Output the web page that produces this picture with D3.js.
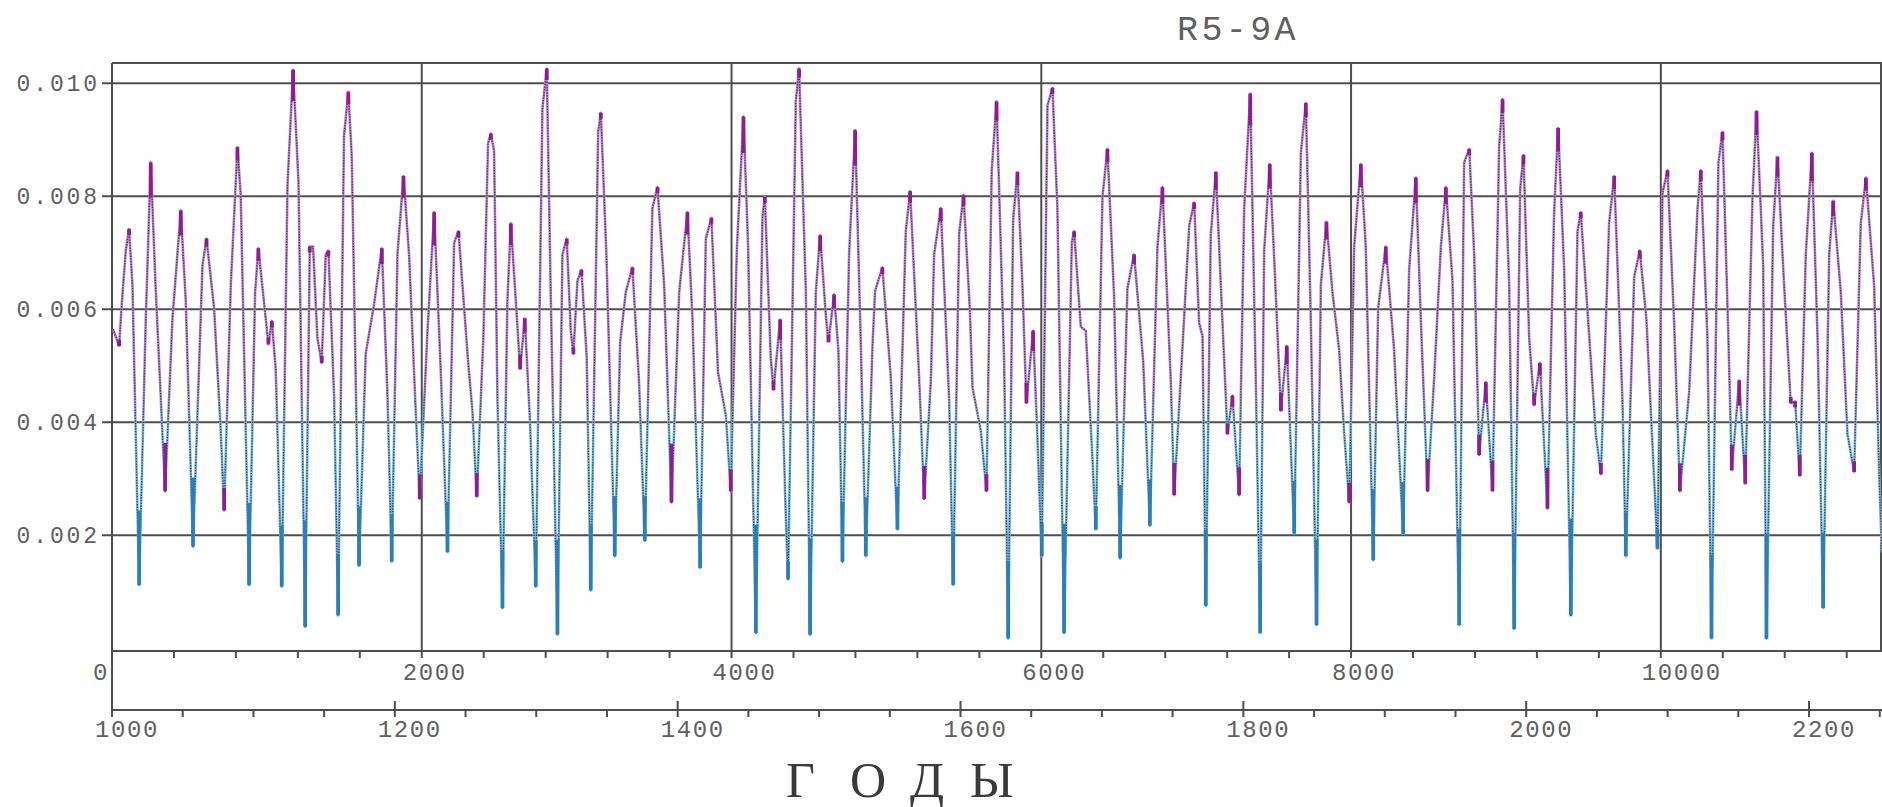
<!DOCTYPE html>
<html><head><meta charset="utf-8">
<script src="https://cdn.jsdelivr.net/npm/d3@7"></script>
<style>body{margin:0;background:#fff;} svg{display:block}</style>
</head><body>
<svg id="c" width="1882" height="807"></svg>
<script>
// ---------- data ----------
const chartTitle = "R5-9A";
const axisTitle = "Г О Д Ы";
const yTickValues = [0.002, 0.004, 0.006, 0.008, 0.010];
const xTickValues = [0, 2000, 4000, 6000, 8000, 10000];
const xMinorStep = 400;
const yearTickValues = [1000, 1200, 1400, 1600, 1800, 2000, 2200];
const yearMinorStep = 50;

const tValues = [
7,46,63,89,110,132,175,218,250,282,343,390,444,476,523,584,610,659,702,724,767,810,831,885,924,945,993,1010,1032,1057,1096,1133,1169,1204,1247,1277,1298,1326,1354,1380,1397,1434,1460,1498,1526,1548,1595,1638,1692,1742,1778,1806,1843,1882,1918,1961,1987,2037,2080,2123,2166,2209,2237,
2299,2327,2355,2398,2428,2446,2467,2489,2521,2553,2575,2607,2635,2665,2699,2736,2779,2807,2833,2876,2908,2936,2962,2979,3005,3031,3065,3091,3139,3156,3192,3246,3281,3317,3360,3403,3440,3489,3522,3565,3612,3662,3715,3748,3797,3834,3870,3913,3963,3995,4034,4077,4107,4157,4200,4215,4253,4271,4314,4350,4365,4415,4436,4480,4507,4544,4572,
4609,4626,4662,4690,4716,4759,4798,4835,4867,4910,4927,4974,5028,5071,5125,5153,5211,5244,5287,5308,5351,5405,5431,5470,5498,5538,5556,5609,5646,5680,5711,5760,5786,5818,5846,5878,5904,5947,5975,6003,6040,6072,6104,6147,6197,6212,6255,6287,6326,6352,6395,6427,6470,6509,6556,6599,6658,6701,6750,6782,6836,6858,
6912,6955,6987,7019,7041,7062,7094,7127,7159,7202,7234,7277,7310,7349,7385,7413,7439,7475,7508,7547,7585,7633,7676,7708,7740,7777,7805,7841,7880,7923,7955,7988,8020,8063,8095,8143,8175,8224,8278,8336,8375,8418,8455,8494,8537,8580,8612,8655,8698,8730,8763,8795,8827,8870,8913,8956,8978,9021,9053,9092,9113,
9150,9182,9219,9268,9311,9337,9376,9419,9462,9483,9537,9580,9613,9666,9699,9752,9774,9828,9864,9907,9957,9978,10011,10043,10086,10123,10183,10237,10258,10301,10327,10372,10398,10437,10458,10506,10545,10592,10618,10661,10682,10725,10753,10796,10839,10867,10897,10936,10975,11012,11048,11087,11113,11162,11205,11248,11291,11324,11377,11410,11427
];
const rValues = [
0.00565,0.00535,0.00609,0.00704,0.00742,0.00643,0.00112,0.00582,0.00860,0.00637,0.00278,0.00582,0.00775,0.00616,0.00180,0.00677,0.00725,0.00603,0.00386,0.00244,0.00643,0.00887,0.00802,0.00112,0.00630,0.00708,0.00582,0.00538,0.00579,0.00494,0.00109,0.00819,0.01024,0.00826,0.00038,0.00711,0.00711,0.00549,0.00505,0.00697,0.00704,0.00447,0.00058,0.00907,0.00985,0.00870,0.00146,0.00521,0.00609,0.00708,0.00454,0.00153,0.00697,0.00836,0.00697,0.00420,0.00264,0.00562,0.00772,0.00488,0.00170,0.00718,0.00738,
0.00508,0.00420,0.00268,0.00552,0.00894,0.00911,0.00880,0.00437,0.00071,0.00616,0.00752,0.00616,0.00494,0.00584,0.00400,0.00109,0.00955,0.01026,0.00623,0.00024,0.00697,0.00725,0.00562,0.00521,0.00650,0.00670,0.00515,0.00102,0.00914,0.00948,0.00697,0.00163,0.00542,0.00630,0.00674,0.00471,0.00190,0.00779,0.00816,0.00643,0.00258,0.00630,0.00772,0.00582,0.00142,0.00725,0.00762,0.00488,0.00413,0.00278,0.00704,0.00941,0.00711,0.00027,0.00765,0.00799,0.00515,0.00457,0.00582,0.00237,0.00122,0.00968,0.01026,0.00630,0.00024,0.00630,0.00731,
0.00589,0.00542,0.00626,0.00528,0.00153,0.00697,0.00917,0.00535,0.00163,0.00535,0.00633,0.00674,0.00481,0.00210,0.00738,0.00809,0.00481,0.00264,0.00474,0.00697,0.00779,0.00440,0.00112,0.00735,0.00802,0.00603,0.00461,0.00386,0.00278,0.00846,0.00968,0.00508,0.00017,0.00758,0.00843,0.00643,0.00434,0.00562,0.00373,0.00163,0.00961,0.00992,0.00779,0.00027,0.00718,0.00738,0.00569,0.00562,0.00359,0.00210,0.00799,0.00884,0.00623,0.00159,0.00637,0.00697,0.00508,0.00217,0.00711,0.00816,0.00474,0.00271,
0.00535,0.00748,0.00789,0.00576,0.00552,0.00075,0.00731,0.00843,0.00643,0.00379,0.00447,0.00271,0.00779,0.00982,0.00474,0.00027,0.00704,0.00857,0.00664,0.00420,0.00535,0.00203,0.00877,0.00965,0.00582,0.00041,0.00643,0.00755,0.00630,0.00528,0.00383,0.00258,0.00711,0.00857,0.00711,0.00156,0.00603,0.00711,0.00528,0.00203,0.00670,0.00833,0.00549,0.00278,0.00481,0.00711,0.00816,0.00650,0.00041,0.00860,0.00884,0.00697,0.00342,0.00471,0.00278,0.00887,0.00972,0.00643,0.00034,0.00813,0.00873,
0.00549,0.00430,0.00505,0.00247,0.00772,0.00921,0.00670,0.00058,0.00738,0.00772,0.00555,0.00379,0.00308,0.00752,0.00836,0.00440,0.00163,0.00657,0.00704,0.00582,0.00298,0.00176,0.00806,0.00846,0.00576,0.00278,0.00454,0.00779,0.00846,0.00549,0.00017,0.00860,0.00914,0.00542,0.00315,0.00474,0.00291,0.00799,0.00951,0.00677,0.00017,0.00745,0.00870,0.00643,0.00434,0.00437,0.00305,0.00697,0.00877,0.00549,0.00071,0.00697,0.00792,0.00630,0.00379,0.00312,0.00752,0.00833,0.00643,0.00305,0.00170
];

// ---------- layout ----------
const svg = d3.select("#c");
const x = d3.scaleLinear().domain([0, 11428]).range([112, 1882]);
const year = d3.scaleLinear().domain([1000, 2251.6]).range([112, 1882]);
const y = d3.scaleLinear().domain([-0.00005, 0.01036]).range([651, 63]);

const gridColor = "#4e4e4e";
const textColor = "#606060";
const monoFont = "'Liberation Mono', 'DejaVu Sans Mono', monospace";

const plotTop = y.range()[1], plotBottom = y.range()[0];
const plotLeft = x(0), plotRight = 1881;
const yearAxisY = 710;

// horizontal gridlines + y labels
const gy = svg.append("g");
gy.selectAll("line").data(yTickValues).join("line")
  .attr("x1", 102).attr("x2", 1882)
  .attr("y1", d => y(d)).attr("y2", d => y(d))
  .attr("stroke", gridColor).attr("stroke-width", 2);
gy.selectAll("text").data(yTickValues).join("text")
  .attr("x", 100).attr("y", d => y(d) + 8)
  .attr("text-anchor", "end")
  .attr("font-family", monoFont).attr("font-size", 23)
  .attr("letter-spacing", 2.9)
  .attr("fill", textColor)
  .text(d => d3.format(".3f")(d));

// vertical gridlines
svg.append("g").selectAll("line").data(xTickValues.filter(d => d > 0)).join("line")
  .attr("x1", d => x(d)).attr("x2", d => x(d))
  .attr("y1", plotTop).attr("y2", plotBottom)
  .attr("stroke", gridColor).attr("stroke-width", 2);

// frame
svg.append("line").attr("x1", plotLeft).attr("x2", 1882).attr("y1", plotTop).attr("y2", plotTop)
  .attr("stroke", gridColor).attr("stroke-width", 2);
svg.append("line").attr("x1", plotLeft).attr("x2", plotLeft).attr("y1", plotTop).attr("y2", yearAxisY)
  .attr("stroke", gridColor).attr("stroke-width", 2);
svg.append("line").attr("x1", plotRight).attr("x2", plotRight).attr("y1", plotTop).attr("y2", plotBottom)
  .attr("stroke", gridColor).attr("stroke-width", 2);
svg.append("line").attr("x1", plotLeft).attr("x2", 1882).attr("y1", plotBottom).attr("y2", plotBottom)
  .attr("stroke", gridColor).attr("stroke-width", 2);

// primary x minor ticks + labels
svg.append("g").selectAll("line").data(d3.range(0, x.domain()[1], xMinorStep)).join("line")
  .attr("x1", d => x(d)).attr("x2", d => x(d))
  .attr("y1", plotBottom).attr("y2", plotBottom + 7)
  .attr("stroke", gridColor).attr("stroke-width", 2);
svg.append("g").selectAll("text").data(xTickValues).join("text")
  .attr("x", d => x(d) - 19).attr("y", 680)
  .attr("font-family", monoFont).attr("font-size", 24)
  .attr("letter-spacing", 1.6).attr("fill", textColor)
  .text(d => d);

// year axis
svg.append("line").attr("x1", plotLeft).attr("x2", 1882).attr("y1", yearAxisY).attr("y2", yearAxisY)
  .attr("stroke", gridColor).attr("stroke-width", 2);
svg.append("g").selectAll("line").data(d3.range(1000, year.domain()[1], yearMinorStep)).join("line")
  .attr("x1", d => year(d)).attr("x2", d => year(d))
  .attr("y1", d => yearTickValues.includes(d) ? yearAxisY - 9 : yearAxisY)
  .attr("y2", yearAxisY + 7)
  .attr("stroke", gridColor).attr("stroke-width", 2);
svg.append("g").selectAll("text").data(yearTickValues).join("text")
  .attr("x", d => year(d) - 17).attr("y", 737)
  .attr("font-family", monoFont).attr("font-size", 24)
  .attr("letter-spacing", 1.6).attr("fill", textColor)
  .text(d => d);

// titles
svg.append("text").attr("x", 1177).attr("y", 40)
  .attr("font-family", monoFont).attr("font-size", 35).attr("letter-spacing", 3.4)
  .attr("fill", textColor).text(chartTitle);
// axis title: each letter placed (spaces kept in the text)
svg.append("text").attr("x", "786 818 850 880 910 940 970").attr("y", 797)
  .attr("font-family", "'Liberation Serif', 'DejaVu Serif', serif").attr("font-size", 50)
  .attr("fill", "#3a3a3a").text(axisTitle);

// ---------- series ----------
const data = tValues.map((t, i) => ({t, v: rValues[i]}));
const line = d3.line().x(d => x(d.t)).y(d => y(d.v));

const defs = svg.append("defs");
const grad = defs.append("linearGradient").attr("id", "halo")
  .attr("gradientUnits", "userSpaceOnUse")
  .attr("x1", 0).attr("x2", 0).attr("y1", plotTop).attr("y2", plotBottom);
const offs = v => (y(v) - plotTop) / (plotBottom - plotTop);
[[0, "#c27fc6"], [offs(0.0048), "#bb84c6"], [offs(0.0038), "#78bcd6"], [1, "#6cb6d6"]]
  .forEach(([o, c]) => grad.append("stop").attr("offset", o).attr("stop-color", c));

const gc = svg.append("g");
gc.append("path").attr("d", line(data)).attr("fill", "none")
  .attr("stroke", "url(#halo)").attr("stroke-width", 2.6).attr("stroke-linejoin", "round");
gc.append("path").attr("d", line(data)).attr("fill", "none")
  .attr("stroke", "#2f3466").attr("stroke-width", 1.3)
  .attr("stroke-dasharray", "1.3 1.4").attr("stroke-linejoin", "round");

// thick coloured tips at turning points
const tips = [];
for (let i = 1; i < data.length - 1; i++) {
  const a = data[i - 1], b = data[i], c = data[i + 1];
  const isPeak = b.v > a.v && b.v >= c.v, isTrough = b.v < a.v && b.v <= c.v;
  if (!isPeak && !isTrough) continue;
  const swing = Math.min(Math.abs(y(b.v) - y(a.v)), Math.abs(y(b.v) - y(c.v)));
  const h = Math.max(6, Math.min(110, swing * 0.28));
  tips.push({d: b, h: isPeak ? h : -h, col: (isTrough && b.v < 0.0024) ? "#2e7eb6" : "#8e1c92"});
}
gc.selectAll("line.tip").data(tips).join("line").attr("class", "tip")
  .attr("x1", d => x(d.d.t)).attr("x2", d => x(d.d.t))
  .attr("y1", d => y(d.d.v)).attr("y2", d => y(d.d.v) + d.h)
  .attr("stroke", d => d.col).attr("stroke-width", 3.8);
</script>
</body></html>
